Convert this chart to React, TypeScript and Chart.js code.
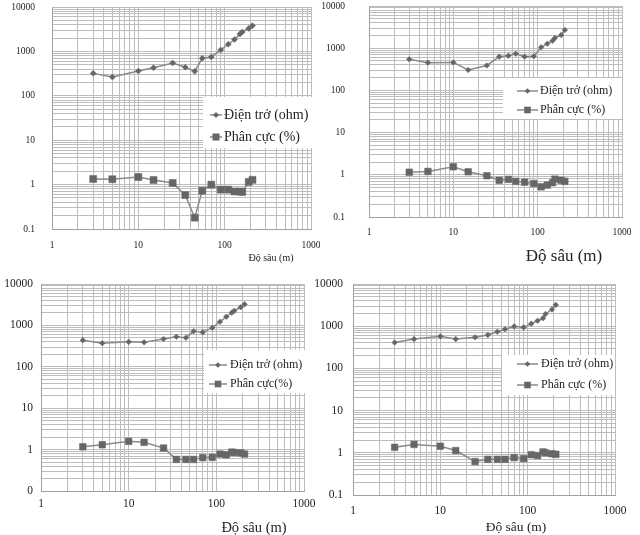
import React, { useEffect, useRef } from 'react';
import { Chart, registerables } from 'chart.js';

Chart.register(...registerables);

// ---- data ----
const depth = [3, 5, 10, 15, 25, 35, 45, 55, 70, 90, 110, 130, 150, 160, 190, 210];

const resistA = [320, 265, 360, 430, 550, 440, 355, 700, 750, 1080, 1450, 1850, 2450, 2750, 3300, 3800];
const polarA = [1.34, 1.32, 1.48, 1.27, 1.09, 0.58, 0.18, 0.73, 1.0, 0.77, 0.77, 0.7, 0.7, 0.68, 1.15, 1.28];

const resistB = [546, 455, 460, 305, 390, 630, 665, 740, 630, 645, 1050, 1280, 1500, 1750, 2050, 2700];
const polarB = [1.15, 1.2, 1.55, 1.18, 0.95, 0.74, 0.78, 0.7, 0.67, 0.62, 0.52, 0.57, 0.65, 0.79, 0.74, 0.7];

const resistC = [440, 370, 400, 390, 470, 530, 505, 720, 680, 880, 1230, 1620, 2030, 2260, 2740, 3230];
const polarC = [1.17, 1.31, 1.58, 1.5, 1.09, 0.58, 0.58, 0.58, 0.64, 0.65, 0.78, 0.75, 0.87, 0.85, 0.83, 0.78];

const resistD = [410, 495, 575, 495, 545, 620, 740, 850, 990, 940, 1150, 1350, 1550, 1950, 2500, 3200];
const polarD = [1.35, 1.58, 1.43, 1.13, 0.62, 0.7, 0.7, 0.7, 0.77, 0.73, 0.9, 0.86, 1.05, 1.0, 0.95, 0.92];

const xTickLabels = ['1', '10', '100', '1000'];
const yTickLabels = ['0.1', '1', '10', '100', '1000', '10000'];
const yTickLabelsC = ['0', '1', '10', '100', '1000', '10000'];

const legendResist = 'Điện trở (ohm)';
const legendPolar = 'Phân cực (%)';
const legendPolarC = 'Phân cực(%)';
const xTitle = 'Độ sâu (m)';

const X_MIN = 1, X_MAX = 1000, Y_MIN = 0.1, Y_MAX = 10000;

// ---- layout / style ----
const FONT = '"Liberation Serif", "Times New Roman", serif';
const GRID = '#bdbdbd';
const LINE = '#8a8a8a';
const MARK = '#666666';

const panels = [
  {
    left: 0, top: 0, w: 320, h: 270,
    area: { l: 52, t: 7, r: 311, b: 229 },
    resist: resistA, polar: polarA, yLabels: yTickLabels, polarName: legendPolar,
    tickFont: 9.5, yPad: 17, xPad: 11,
    title: { x: 271, y: 258, size: 10 },
    legend: { x0: 203, x1: 313, y0: 97, y1: 148, rows: [115, 137], l0: 210, l1: 222, tx: 224, size: 14, d: 3, s: 3.5 },
  },
  {
    left: 320, top: 0, w: 320, h: 270,
    area: { l: 49, t: 6, r: 302, b: 217 },
    resist: resistB, polar: polarB, yLabels: yTickLabels, polarName: legendPolar,
    tickFont: 9.5, yPad: 24, xPad: 10,
    title: { x: 244, y: 257, size: 17 },
    legend: { x0: 183, x1: 302, y0: 78, y1: 119, rows: [91, 110], l0: 197, l1: 218, tx: 220, size: 12, d: 2.8, s: 3.3 },
  },
  {
    left: 0, top: 270, w: 320, h: 265,
    area: { l: 41, t: 14, r: 304, b: 221 },
    resist: resistC, polar: polarC, yLabels: yTickLabelsC, polarName: legendPolarC,
    tickFont: 11.5, yPad: 8, xPad: 6,
    title: { x: 254, y: 258, size: 14.5 },
    legend: { x0: 204, x1: 305, y0: 80, y1: 123, rows: [95, 114], l0: 209, l1: 227, tx: 230, size: 12, d: 2.8, s: 3.3 },
  },
  {
    left: 310, top: 270, w: 330, h: 265,
    area: { l: 43, t: 14, r: 305, b: 225 },
    resist: resistD, polar: polarD, yLabels: yTickLabels, polarName: legendPolar,
    tickFont: 11.5, yPad: 10, xPad: 9,
    title: { x: 206, y: 257, size: 13.5 },
    legend: { x0: 192, x1: 305, y0: 85, y1: 125, rows: [94, 115], l0: 207, l1: 228, tx: 231, size: 12, d: 2.8, s: 3.3 },
  },
];

function logGridValues(min: number, max: number): number[] {
  const out: number[] = [];
  const e0 = Math.round(Math.log10(min));
  const e1 = Math.round(Math.log10(max));
  for (let e = e0; e < e1; e++) {
    for (let m = 1; m <= 9; m++) out.push(parseFloat((m * Math.pow(10, e)).toPrecision(6)));
  }
  out.push(max);
  return out;
}

function labelFor(labels: string[], min: number) {
  return (value: number) => {
    const lg = Math.log10(value);
    const r = Math.round(lg);
    if (Math.abs(lg - r) < 1e-6) {
      const idx = r - Math.round(Math.log10(min));
      return labels[idx] ?? '';
    }
    return '';
  };
}

function zeroPadding(s: any) {
  s.paddingTop = 0;
  s.paddingBottom = 0;
  s.paddingLeft = 0;
  s.paddingRight = 0;
}

function drawDiamond(ctx: CanvasRenderingContext2D, x: number, y: number, r: number) {
  ctx.beginPath();
  ctx.moveTo(x, y - r);
  ctx.lineTo(x + r, y);
  ctx.lineTo(x, y + r);
  ctx.lineTo(x - r, y);
  ctx.closePath();
  ctx.fill();
}

function Panel({ p, idx }: { p: any; idx: number }) {
  const ref = useRef<HTMLCanvasElement | null>(null);
  useEffect(() => {
    if (!ref.current) return;
    const overlay = {
      id: 'overlay' + idx,
      afterDraw(chart: any) {
        const ctx: CanvasRenderingContext2D = chart.ctx;
        const L = p.legend;
        ctx.save();
        ctx.fillStyle = '#ffffff';
        ctx.fillRect(L.x0, L.y0, L.x1 - L.x0, L.y1 - L.y0);
        const names = [legendResist, p.polarName];
        L.rows.forEach((yy: number, i: number) => {
          ctx.strokeStyle = LINE;
          ctx.lineWidth = 1.5;
          ctx.beginPath();
          ctx.moveTo(L.l0, yy);
          ctx.lineTo(L.l1, yy);
          ctx.stroke();
          ctx.fillStyle = MARK;
          const cx = (L.l0 + L.l1) / 2;
          if (i === 0) drawDiamond(ctx, cx, yy, L.d);
          else ctx.fillRect(cx - L.s, yy - L.s, 2 * L.s, 2 * L.s);
          ctx.fillStyle = '#222';
          ctx.font = `${L.size}px ${FONT}`;
          ctx.textAlign = 'left';
          ctx.textBaseline = 'middle';
          ctx.fillText(names[i], L.tx, yy);
        });
        ctx.font = `${p.title.size}px ${FONT}`;
        ctx.fillStyle = '#222';
        ctx.textAlign = 'center';
        ctx.textBaseline = 'middle';
        ctx.fillText(xTitle, p.title.x, p.title.y);
        ctx.restore();
      },
    };

    const chart = new Chart(ref.current, {
      type: 'scatter',
      data: {
        datasets: [
          {
            label: legendResist,
            data: depth.map((d, i) => ({ x: d, y: p.resist[i] })),
            showLine: true,
            borderColor: LINE,
            borderWidth: 1.5,
            pointStyle: 'rectRot',
            pointRadius: p.legend.d,
            pointBackgroundColor: MARK,
            pointBorderColor: MARK,
            pointBorderWidth: 0.5,
          },
          {
            label: p.polarName,
            data: depth.map((d, i) => ({ x: d, y: p.polar[i] })),
            showLine: true,
            borderColor: LINE,
            borderWidth: 1.5,
            pointStyle: 'rect',
            pointRadius: p.legend.s * 1.414,
            pointBackgroundColor: MARK,
            pointBorderColor: MARK,
            pointBorderWidth: 0.5,
          },
        ],
      },
      options: {
        animation: false,
        responsive: false,
        maintainAspectRatio: false,
        layout: { padding: { left: 0, top: p.area.t, right: p.w - p.area.r, bottom: 0 } },
        plugins: { legend: { display: false }, tooltip: { enabled: false } },
        scales: {
          x: {
            type: 'logarithmic',
            position: 'bottom',
            min: X_MIN,
            max: X_MAX,
            afterBuildTicks: (s: any) => {
              s.ticks = logGridValues(X_MIN, X_MAX).map((v) => ({ value: v }));
            },
            afterFit: (s: any) => {
              s.height = p.h - p.area.b;
              zeroPadding(s);
            },
            grid: { color: GRID, lineWidth: 1, drawTicks: false },
            border: { display: true, color: '#a0a0a0', width: 1 },
            ticks: {
              autoSkip: false,
              maxRotation: 0,
              minRotation: 0,
              padding: p.xPad,
              color: '#222',
              font: { family: FONT, size: p.tickFont },
              callback: labelFor(xTickLabels, X_MIN),
            },
          },
          y: {
            type: 'logarithmic',
            position: 'left',
            min: Y_MIN,
            max: Y_MAX,
            afterBuildTicks: (s: any) => {
              s.ticks = logGridValues(Y_MIN, Y_MAX).map((v) => ({ value: v }));
            },
            afterFit: (s: any) => {
              s.width = p.area.l;
              zeroPadding(s);
            },
            grid: { color: GRID, lineWidth: 1, drawTicks: false },
            border: { display: true, color: '#a0a0a0', width: 1 },
            ticks: {
              autoSkip: false,
              padding: p.yPad,
              color: '#222',
              font: { family: FONT, size: p.tickFont },
              callback: labelFor(p.yLabels, Y_MIN),
            },
          },
        },
      } as any,
      plugins: [overlay],
    });
    return () => chart.destroy();
  }, []);
  return (
    <canvas
      ref={ref}
      width={p.w}
      height={p.h}
      style={{ position: 'absolute', left: p.left, top: p.top, width: p.w, height: p.h, display: 'block' }}
    />
  );
}

export default function App() {
  return (
    <div style={{ position: 'absolute', left: 0, top: 0, width: 640, height: 535, background: '#fff', overflow: 'hidden' }}>
      {panels.map((p, i) => (
        <Panel key={i} p={p} idx={i} />
      ))}
    </div>
  );
}
